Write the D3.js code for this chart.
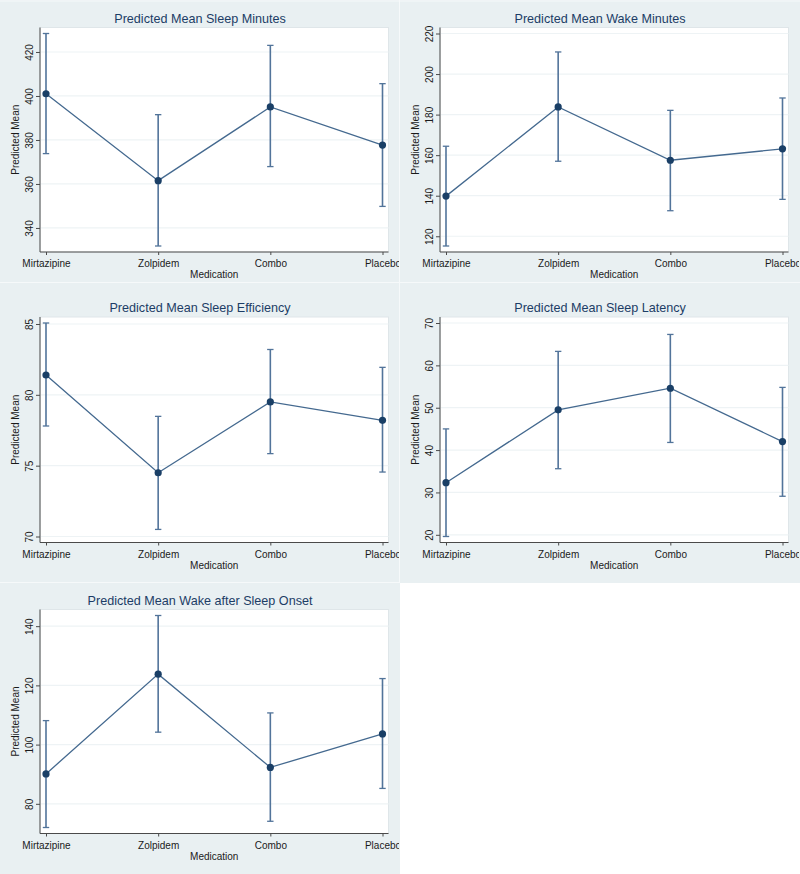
<!DOCTYPE html>
<html>
<head>
<meta charset="utf-8">
<script src="https://cdn.jsdelivr.net/npm/d3@7"></script>
<style>
  html, body { margin: 0; padding: 0; background: #ffffff; }
  svg { display: block; font-family: "Liberation Sans", Arial, Helvetica, sans-serif; }
</style>
</head>
<body>
<svg id="chart" width="800" height="874"></svg>
<script>
// ---------- Data ----------
const categories = ["Mirtazipine", "Zolpidem", "Combo", "Placebo"];

const sleepMinutesMean = [401.0, 361.5, 395.0, 377.7];
const sleepMinutesLo   = [373.8, 331.8, 367.9, 349.8];
const sleepMinutesHi   = [428.4, 391.5, 423.0, 405.6];
const sleepMinutesTicks = [340, 360, 380, 400, 420];

const wakeMinutesMean = [139.8, 183.8, 157.5, 163.1];
const wakeMinutesLo   = [115.2, 157.0, 132.6, 138.2];
const wakeMinutesHi   = [164.4, 210.9, 182.1, 188.2];
const wakeMinutesTicks = [120, 140, 160, 180, 200, 220];

const efficiencyMean = [81.4, 74.5, 79.5, 78.2];
const efficiencyLo   = [77.8, 70.5, 75.85, 74.55];
const efficiencyHi   = [85.07, 78.48, 83.2, 81.94];
const efficiencyTicks = [70, 75, 80, 85];

const latencyMean = [32.3, 49.5, 54.6, 42.0];
const latencyLo   = [19.6, 35.6, 41.8, 29.1];
const latencyHi   = [45.0, 63.3, 67.3, 54.8];
const latencyTicks = [20, 30, 40, 50, 60, 70];

const wasoMean = [90.1, 123.8, 92.3, 103.6];
const wasoLo   = [72.0, 104.2, 74.1, 85.2];
const wasoHi   = [108.1, 143.6, 110.7, 122.3];
const wasoTicks = [80, 100, 120, 140];

const titles = [
  "Predicted Mean Sleep Minutes",
  "Predicted Mean Wake Minutes",
  "Predicted Mean Sleep Efficiency",
  "Predicted Mean Sleep Latency",
  "Predicted Mean Wake after Sleep Onset"
];
const xTitle = "Medication";
const yTitle = "Predicted Mean";

// ---------- Layout ----------
const panels = [
  { title: titles[0], mean: sleepMinutesMean, lo: sleepMinutesLo, hi: sleepMinutesHi, ticks: sleepMinutesTicks, ox: 0,   top: 27.5,  bottom: 252 },
  { title: titles[1], mean: wakeMinutesMean,  lo: wakeMinutesLo,  hi: wakeMinutesHi,  ticks: wakeMinutesTicks,  ox: 400, top: 27.5,  bottom: 252 },
  { title: titles[2], mean: efficiencyMean,   lo: efficiencyLo,   hi: efficiencyHi,   ticks: efficiencyTicks,   ox: 0,   top: 317,   bottom: 542.5 },
  { title: titles[3], mean: latencyMean,      lo: latencyLo,      hi: latencyHi,      ticks: latencyTicks,      ox: 400, top: 317,   bottom: 542.5 },
  { title: titles[4], mean: wasoMean,         lo: wasoLo,         hi: wasoHi,         ticks: wasoTicks,         ox: 0,   top: 609.5, bottom: 833.5 }
];

const BG = "#e9f0f2";
const NAVY = "#1a3f66";
const TITLE_COL = "#1c3d66";
const LINE_COL = "#44698f";
const CI_COL = "#52749a";
const AXIS_COL = "#4a4a4a";
const GRID_COL = "#eef3f5";

const svg = d3.select("#chart");

// backgrounds
svg.append("rect").attr("x", 0).attr("y", 0).attr("width", 800).attr("height", 874).attr("fill", BG);
svg.append("rect").attr("x", 400).attr("y", 583).attr("width", 400).attr("height", 291).attr("fill", "#ffffff");

// separators
const sepCol = "#f6f9fa";
svg.append("line").attr("x1", 399.5).attr("x2", 399.5).attr("y1", 0).attr("y2", 583).attr("stroke", sepCol).attr("stroke-width", 1);
svg.append("line").attr("x1", 0).attr("x2", 800).attr("y1", 282.5).attr("y2", 282.5).attr("stroke", sepCol).attr("stroke-width", 1);
svg.append("line").attr("x1", 0).attr("x2", 400).attr("y1", 582.5).attr("y2", 582.5).attr("stroke", sepCol).attr("stroke-width", 1);
svg.append("line").attr("x1", 0).attr("x2", 800).attr("y1", 1).attr("y2", 1).attr("stroke", sepCol).attr("stroke-width", 1);

const defs = svg.append("defs");

panels.forEach((p, i) => {
  const left = p.ox + 40, right = p.ox + 388.5;
  const pad = 6;

  // clip to the panel cell
  const cellTop = p.top < 100 ? 0 : (p.top < 400 ? 283 : 583);
  const cellBottom = p.top < 100 ? 282 : (p.top < 400 ? 582 : 874);
  defs.append("clipPath").attr("id", "cell" + i)
    .append("rect").attr("x", p.ox).attr("y", cellTop).attr("width", 399).attr("height", cellBottom - cellTop);

  const g = svg.append("g").attr("clip-path", `url(#cell${i})`);

  const x = d3.scalePoint().domain(categories).range([left + pad, right - pad]);
  const yMin = Math.min(p.ticks[0], d3.min(p.lo));
  const yMax = Math.max(p.ticks[p.ticks.length - 1], d3.max(p.hi));
  const y = d3.scaleLinear().domain([yMin, yMax]).range([p.bottom - pad, p.top + pad]);

  // plot region
  g.append("rect").attr("x", left).attr("y", p.top).attr("width", right - left).attr("height", p.bottom - p.top)
    .attr("fill", "#ffffff").attr("stroke", "#dfe6e9").attr("stroke-width", 1);

  // gridlines
  g.selectAll(".grid").data(p.ticks).join("line")
    .attr("x1", left).attr("x2", right)
    .attr("y1", d => y(d)).attr("y2", d => y(d))
    .attr("stroke", GRID_COL).attr("stroke-width", 1.2);

  // y axis
  const yAxis = d3.axisLeft(y).tickValues(p.ticks).tickSize(4).tickPadding(3).tickFormat(d3.format("d"));
  const ya = g.append("g").attr("transform", `translate(${left},0)`).call(yAxis);
  ya.select(".domain").attr("stroke", AXIS_COL).attr("d", `M0,${p.top}V${p.bottom}`);
  ya.selectAll(".tick line").attr("stroke", AXIS_COL);
  ya.selectAll(".tick text")
    .attr("font-size", 10).attr("fill", "#1a1a1a")
    .attr("x", null)
    .attr("text-anchor", "middle")
    .attr("transform", "translate(-11,0) rotate(-90)")
    .attr("dy", "0.36em");

  // x axis
  const xAxis = d3.axisBottom(x).tickSize(3).tickPadding(5);
  const xa = g.append("g").attr("transform", `translate(0,${p.bottom})`).call(xAxis);
  xa.select(".domain").attr("stroke", AXIS_COL).attr("d", `M${left},0H${right}`);
  xa.selectAll(".tick line").attr("stroke", AXIS_COL);
  xa.selectAll(".tick text").attr("font-size", 10).attr("fill", "#1a1a1a");

  // axis titles
  g.append("text").attr("x", (left + right) / 2).attr("y", p.bottom + 26)
    .attr("text-anchor", "middle").attr("font-size", 10).attr("fill", "#1a1a1a").text(xTitle);
  g.append("text")
    .attr("transform", `translate(${p.ox + 19},${(p.top + p.bottom) / 2}) rotate(-90)`)
    .attr("text-anchor", "middle").attr("font-size", 10).attr("fill", "#1a1a1a").text(yTitle);

  // title
  g.append("text").attr("x", p.ox + 200).attr("y", p.top - 5)
    .attr("text-anchor", "middle").attr("font-size", 12.6).attr("fill", TITLE_COL).text(p.title);

  // error bars
  const idx = d3.range(categories.length);
  const capW = 3.2;
  g.selectAll(".ci").data(idx).join("line")
    .attr("x1", d => x(categories[d])).attr("x2", d => x(categories[d]))
    .attr("y1", d => y(p.lo[d])).attr("y2", d => y(p.hi[d]))
    .attr("stroke", CI_COL).attr("stroke-width", 1.6);
  g.selectAll(".capHi").data(idx).join("line")
    .attr("x1", d => x(categories[d]) - capW).attr("x2", d => x(categories[d]) + capW)
    .attr("y1", d => y(p.hi[d])).attr("y2", d => y(p.hi[d]))
    .attr("stroke", CI_COL).attr("stroke-width", 1.3);
  g.selectAll(".capLo").data(idx).join("line")
    .attr("x1", d => x(categories[d]) - capW).attr("x2", d => x(categories[d]) + capW)
    .attr("y1", d => y(p.lo[d])).attr("y2", d => y(p.lo[d]))
    .attr("stroke", CI_COL).attr("stroke-width", 1.3);

  // connecting line
  const line = d3.line().x(d => x(categories[d])).y(d => y(p.mean[d]));
  g.append("path").datum(idx).attr("d", line)
    .attr("fill", "none").attr("stroke", LINE_COL).attr("stroke-width", 1.3);

  // markers
  g.selectAll(".pt").data(idx).join("circle")
    .attr("cx", d => x(categories[d])).attr("cy", d => y(p.mean[d]))
    .attr("r", 3.6).attr("fill", NAVY);
});
</script>
</body>
</html>
